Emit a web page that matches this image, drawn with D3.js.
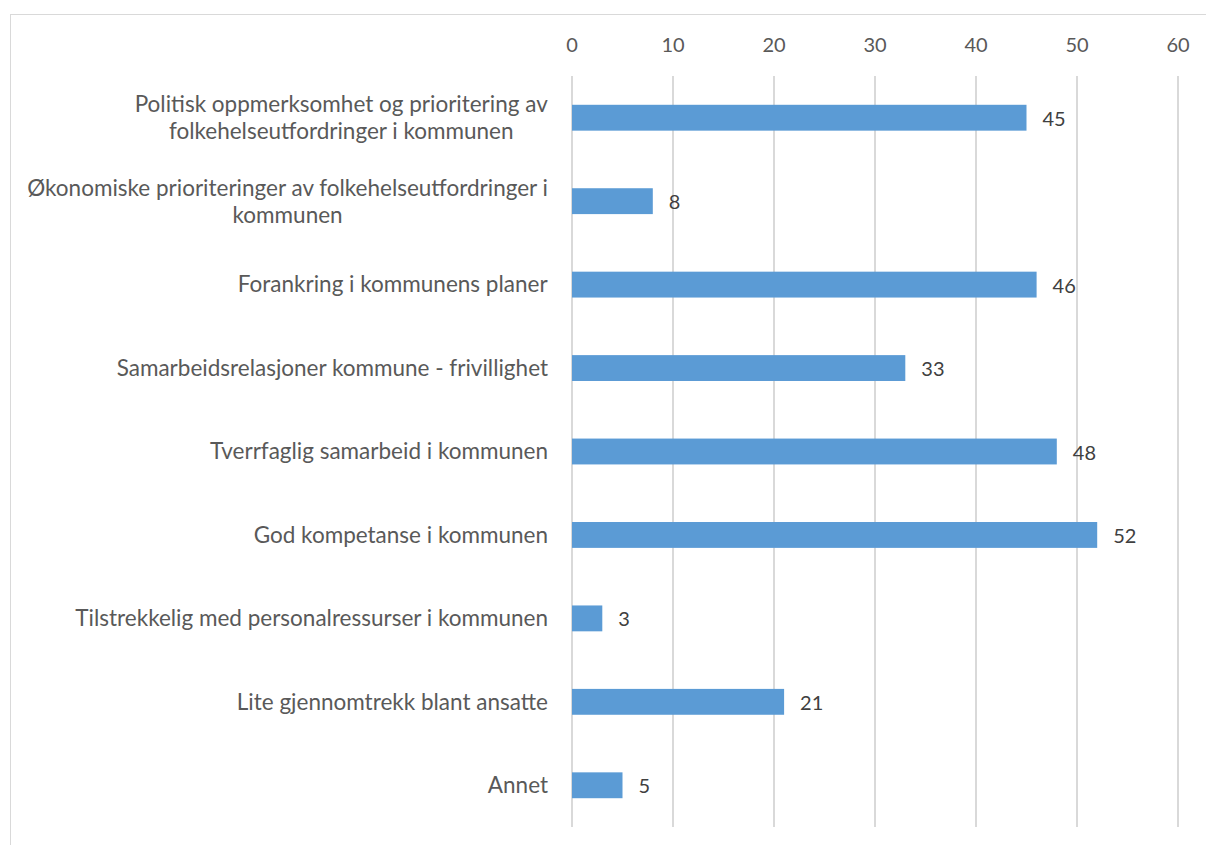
<!DOCTYPE html>
<html>
<head>
<meta charset="utf-8">
<script src="https://cdn.jsdelivr.net/npm/d3@7"></script>
<style>
  body { margin: 0; background: #fff; }
  text { font-family: Lato, sans-serif; }
</style>
</head>
<body>
<div id="chart"></div>
<script>
// Categories (top to bottom), each split into display lines
const categories = [
    ["Politisk oppmerksomhet og prioritering av", "folkehelseutfordringer i kommunen"],
    ["Økonomiske prioriteringer av folkehelseutfordringer i", "kommunen"],
    ["Forankring i kommunens planer"],
    ["Samarbeidsrelasjoner kommune - frivillighet"],
    ["Tverrfaglig samarbeid i kommunen"],
    ["God kompetanse i kommunen"],
    ["Tilstrekkelig med personalressurser i kommunen"],
    ["Lite gjennomtrekk blant ansatte"],
    ["Annet"]
];
const values = [45, 8, 46, 33, 48, 52, 3, 21, 5];
const ticks = [0, 10, 20, 30, 40, 50, 60];

const width = 1206, height = 845;
const margin = {top: 76, right: 28, bottom: 18, left: 572};
const numSize = "20px", labelSize = "22.5px";

const svg = d3.select("#chart").append("svg")
    .attr("width", width)
    .attr("height", height);

// Chart border
svg.append("rect")
    .attr("x", 10.5).attr("y", 14.5)
    .attr("width", width + 10).attr("height", height + 10)
    .attr("fill", "none")
    .attr("stroke", "#d9d9d9")
    .attr("stroke-width", 1);

const x = d3.scaleLinear()
    .domain([0, 60])
    .range([margin.left, margin.left + 606]);

const y = d3.scaleBand()
    .domain(d3.range(categories.length))
    .range([margin.top, height - margin.bottom])
    .paddingInner(0.69)
    .paddingOuter(0.345);

// Gridlines
svg.append("g")
    .selectAll("line")
    .data(ticks)
    .join("line")
    .attr("x1", d => x(d)).attr("x2", d => x(d))
    .attr("y1", margin.top).attr("y2", height - margin.bottom)
    .attr("stroke", "#d9d9d9")
    .attr("stroke-width", 2);

// Top axis labels
svg.append("g")
    .selectAll("text")
    .data(ticks)
    .join("text")
    .attr("x", d => x(d))
    .attr("y", 45)
    .attr("dy", "0.35em")
    .attr("text-anchor", "middle")
    .attr("fill", "#595959")
    .style("font-size", numSize)
    .text(d => d);

// Bars
svg.append("g")
    .selectAll("rect")
    .data(values)
    .join("rect")
    .attr("x", x(0))
    .attr("y", (d, i) => y(i))
    .attr("width", d => x(d) - x(0))
    .attr("height", y.bandwidth())
    .attr("fill", "#5b9bd5");

// Value labels
svg.append("g")
    .selectAll("text")
    .data(values)
    .join("text")
    .attr("x", d => x(d) + 16)
    .attr("y", (d, i) => y(i) + y.bandwidth() / 2 + 1)
    .attr("dy", "0.35em")
    .attr("fill", "#404040")
    .style("font-size", numSize)
    .text(d => d);

// Category labels: block right-aligned, lines centred within the block
const lineH = 27;
const labelRight = x(0) - 24;
svg.append("g")
    .selectAll("text")
    .data(categories)
    .join("text")
    .attr("fill", "#595959")
    .style("font-size", labelSize)
    .each(function(lines, i) {
        const cy = y(i) + y.bandwidth() / 2;
        const y0 = cy - (lines.length - 1) * lineH / 2;
        const t = d3.select(this);
        const spans = t.selectAll("tspan")
            .data(lines)
            .join("tspan")
            .attr("x", 0)
            .attr("y", (l, j) => y0 + j * lineH)
            .attr("dy", "0.35em")
            .text(l => l);
        const blockW = this.getBBox().width;
        spans.attr("text-anchor", "middle")
            .attr("x", labelRight - blockW / 2);
    });
</script>
</body>
</html>
